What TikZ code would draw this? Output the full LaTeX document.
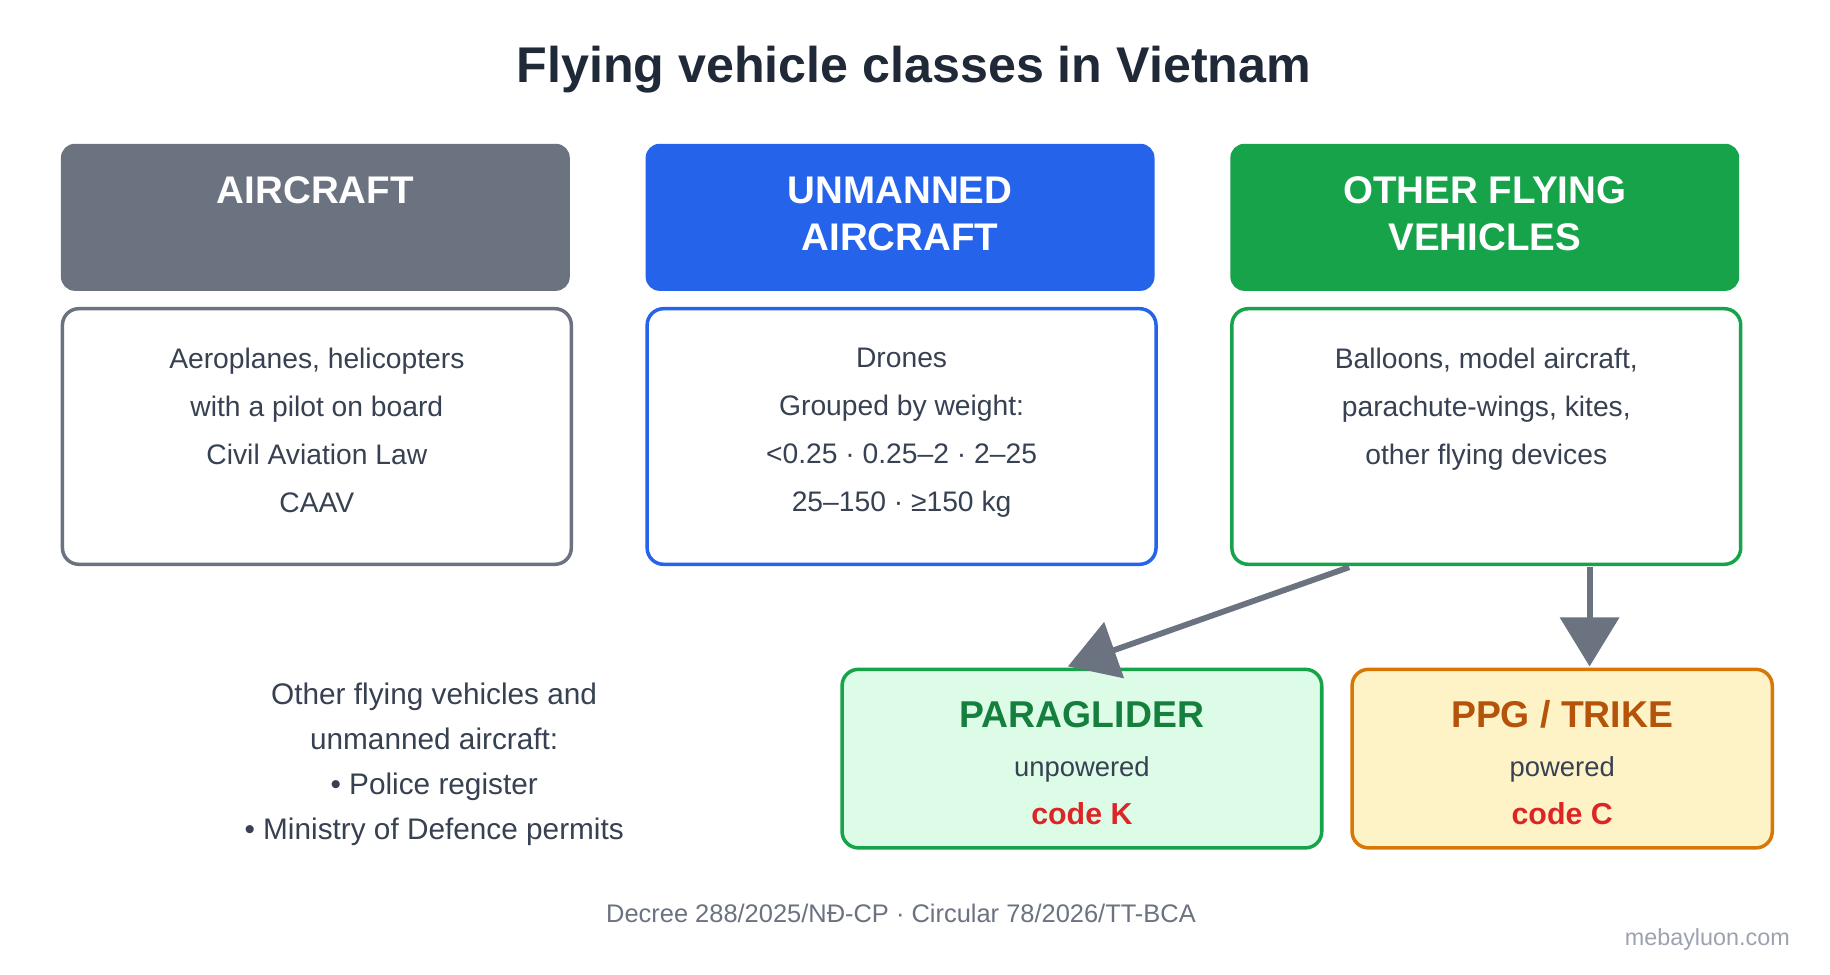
\documentclass[tikz,border=0pt]{standalone}
\usepackage{fontspec}
\setmainfont{Liberation Sans}
\usetikzlibrary{positioning,calc,arrows.meta}
\definecolor{titlecolor}{HTML}{1F2937}
\definecolor{textcolor}{HTML}{374151}
\definecolor{graycolor}{HTML}{6B7280}
\definecolor{bluecolor}{HTML}{2563EB}
\definecolor{greencolor}{HTML}{16A34A}
\definecolor{darkgreen}{HTML}{15803D}
\definecolor{lightgreen}{HTML}{DCFCE7}
\definecolor{orangecolor}{HTML}{D97706}
\definecolor{darkorange}{HTML}{B45309}
\definecolor{lightorange}{HTML}{FEF3C7}
\definecolor{codecolor}{HTML}{DC2626}
\definecolor{footcolor}{HTML}{9CA3AF}
\tikzset{
  %% header : coloured class box
  header/.style={
    rectangle,
    rounded corners=12pt,
    minimum width=436pt,
    minimum height=126pt,
    anchor=north west
  },
  %% body : description box
  body/.style={
    rectangle,
    rounded corners=14pt,
    line width=3pt,
    fill=white,
    minimum width=436pt,
    minimum height=219pt,
    anchor=north west
  },
  %% headtext : header label
  headtext/.style={
    white,
    font=\fontsize{33}{40}\selectfont\bfseries,
    align=center,
    anchor=north
  },
  %% bodytext : description lines
  bodytext/.style={
    textcolor,
    font=\fontsize{24.2}{41}\selectfont,
    align=center,
    anchor=north
  },
  %% kind : paraglider / trike box
  kind/.style={
    rectangle,
    rounded corners=14pt,
    line width=3pt,
    minimum height=153pt,
    anchor=north west
  },
  %% tip : arrow between boxes
  tip/.style={
    graycolor,
    line width=5pt,
    -{Triangle[length=42pt,width=50pt]}
  }
}

\begin{document}
\begin{tikzpicture}
  [x=1pt,
  y=-1pt]

  \useasboundingbox[fill=white] (0,0) rectangle (1568,835);

  %% Title
  \node (title) [titlecolor, font=\fontsize{43}{50}\selectfont\bfseries]
  at (783, 60) {Flying vehicle classes in Vietnam};

  %% Headers
  \node (airhead) [header, fill=graycolor] at (52, 123) {};
  \node (unhead) [header, fill=bluecolor] at (553, 123) {};
  \node (othhead) [header, fill=greencolor] at (1054, 123) {};
  \node [headtext] at ($(airhead.north)+(0,25)$) {AIRCRAFT};
  \node [headtext] at ($(unhead.north)+(0,25)$) {UNMANNED\\AIRCRAFT};
  \node [headtext] at ($(othhead.north)+(0,25)$) {OTHER FLYING\\VEHICLES};

  %% Descriptions
  \node (airbody) [body, draw=graycolor] at (52, 263) {};
  \node (unbody) [body, draw=bluecolor] at (553, 263) {};
  \node (othbody) [body, draw=greencolor] at (1054, 263) {};
  \node [bodytext] at ($(airbody.north)+(0,32)$) {%
    Aeroplanes, helicopters\\
    with a pilot on board\\
    Civil Aviation Law\\
    CAAV};
  \node [bodytext] at ($(unbody.north)+(0,32)$) {%
    Drones\\
    Grouped by weight:\\
    <0.25 · 0.25–2 · 2–25\\
    25–150 · ≥150 kg};
  \node [bodytext] at ($(othbody.north)+(0,32)$) {%
    Balloons, model aircraft,\\
    parachute-wings, kites,\\
    other flying devices};

  %% Kinds of other flying vehicles
  \node (para) [kind, draw=greencolor, fill=lightgreen, minimum width=411pt]
  at (720, 572) {};
  \node (trike) [kind, draw=orangecolor, fill=lightorange, minimum width=360pt]
  at (1157, 572) {};
  \node [darkgreen, font=\fontsize{32}{40}\selectfont\bfseries]
  at ($(para.north)+(0,40)$) {PARAGLIDER};
  \node [textcolor, font=\fontsize{23.5}{28}\selectfont]
  at ($(para.north)+(0,87)$) {unpowered};
  \node [codecolor, font=\fontsize{26}{32}\selectfont\bfseries]
  at ($(para.north)+(0,125)$) {code K};
  \node [darkorange, font=\fontsize{32}{40}\selectfont\bfseries]
  at ($(trike.north)+(0,40)$) {PPG / TRIKE};
  \node [textcolor, font=\fontsize{23.5}{28}\selectfont]
  at ($(trike.north)+(0,87)$) {powered};
  \node [codecolor, font=\fontsize{26}{32}\selectfont\bfseries]
  at ($(trike.north)+(0,125)$) {code C};

  %% Arrows
  \coordinate (fromleft) at (1156, 486);
  \coordinate (fromright) at (1362, 486);
  \coordinate (toleft) at (915, 571);
  \coordinate (toright) at (1362, 571);
  \draw [tip] (fromleft) -- (toleft);
  \draw [tip] (fromright) -- (toright);

  %% Note
  \node (note) [textcolor, font=\fontsize{25.5}{38.5}\selectfont, align=center,
  anchor=north] at (372, 582) {%
    Other flying vehicles and\\
    unmanned aircraft:\\
    • Police register\\
    • Ministry of Defence permits};

  %% Footer
  \node (foot) [graycolor, font=\fontsize{21.8}{26}\selectfont]
  at (772, 783) {Decree 288/2025/NĐ-CP · Circular 78/2026/TT-BCA};
  \node (site) [footcolor, font=\fontsize{20}{24}\selectfont, anchor=east]
  at (1537, 805) {mebayluon.com};

\end{tikzpicture}
\end{document}
